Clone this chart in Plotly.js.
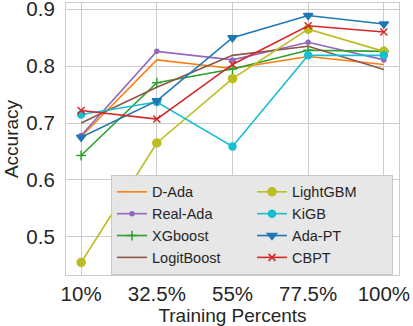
<!DOCTYPE html>
<html>
<head>
<meta charset="utf-8">
<script src="https://cdn.plot.ly/plotly-3.0.1.min.js"></script>
<style>
  html, body { margin: 0; padding: 0; background: #fff; }
  #chart { width: 413px; height: 326px; }
</style>
</head>
<body>
<div id="chart"></div>
<script>
// training percent on x, accuracy on y
var trainPct = [10, 32.5, 55, 77.5, 100];
var tickLabels = ['10%', '32.5%', '55%', '77.5%', '100%'];

var dAda       = [0.676, 0.811, 0.796, 0.817, 0.803];
var realAda    = [0.678, 0.826, 0.811, 0.842, 0.811];
var xgboost    = [0.643, 0.771, 0.795, 0.828, 0.826];
var logitBoost = [0.700, 0.763, 0.819, 0.835, 0.794];
var lightGBM   = [0.455, 0.665, 0.778, 0.865, 0.826];
var kigb       = [0.715, 0.737, 0.659, 0.819, 0.819];
var adaPT      = [0.675, 0.739, 0.850, 0.889, 0.874];
var cbpt       = [0.722, 0.707, 0.803, 0.871, 0.860];

function series(name, y, color, symbol, size, rank) {
  return {
    x: trainPct,
    y: y,
    name: name,
    type: 'scatter',
    mode: symbol ? 'lines+markers' : 'lines',
    line: {color: color, width: 1.6},
    marker: {symbol: symbol || 'circle', size: size, color: color,
             line: {color: color, width: 1.5}},
    legendrank: rank
  };
}

var data = [
  series('D-Ada', dAda, '#ff7f0e', null, 0, 1),
  series('Real-Ada', realAda, '#9467bd', 'circle', 4, 3),
  series('XGboost', xgboost, '#2ca02c', 'cross-thin-open', 7, 5),
  series('LogitBoost', logitBoost, '#8c564b', null, 0, 7),
  series('LightGBM', lightGBM, '#bcbd22', 'circle', 8, 2),
  series('KiGB', kigb, '#17becf', 'circle', 7, 4),
  series('Ada-PT', adaPT, '#1f77b4', 'triangle-down', 8, 6),
  series('CBPT', cbpt, '#d62728', 'x-thin-open', 7, 8)
];

var layout = {
  width: 413,
  height: 326,
  margin: {l: 66, r: 14, t: 3, b: 51},
  paper_bgcolor: '#ffffff',
  plot_bgcolor: '#ffffff',
  font: {family: 'Liberation Sans, Arial, sans-serif', color: '#262626'},
  showlegend: true,
  legend: {
    orientation: 'h',
    x: 0.982,
    y: 0.368,
    xanchor: 'right',
    yanchor: 'top',
    entrywidth: 95,
    bgcolor: 'rgba(230,230,230,0.95)',
    bordercolor: '#c8c8c8',
    borderwidth: 1,
    font: {size: 14.5, color: '#262626'}
  },
  xaxis: {
    title: {text: 'Training Percents', font: {size: 19}, standoff: 4},
    automargin: false,
    range: [5.5, 104.5],
    tickmode: 'array',
    tickvals: trainPct,
    ticktext: tickLabels,
    tickfont: {size: 20.5},
    ticks: '',
    showgrid: true,
    gridcolor: '#cccccc',
    zeroline: false,
    showline: true,
    mirror: true,
    linecolor: '#cccccc',
    linewidth: 1.2,
    ticklabeloverflow: 'allow'
  },
  yaxis: {
    title: {text: 'Accuracy', font: {size: 19}, standoff: 2},
    automargin: false,
    range: [0.433, 0.911],
    tickvals: [0.5, 0.6, 0.7, 0.8, 0.9],
    tickfont: {size: 20.5},
    ticks: '',
    ticklabelstandoff: 6,
    showgrid: true,
    gridcolor: '#cccccc',
    zeroline: false,
    showline: true,
    mirror: true,
    linecolor: '#cccccc',
    linewidth: 1.2,
    ticklabeloverflow: 'allow'
  }
};

Plotly.newPlot('chart', data, layout, {displayModeBar: false, responsive: false});
</script>
</body>
</html>
